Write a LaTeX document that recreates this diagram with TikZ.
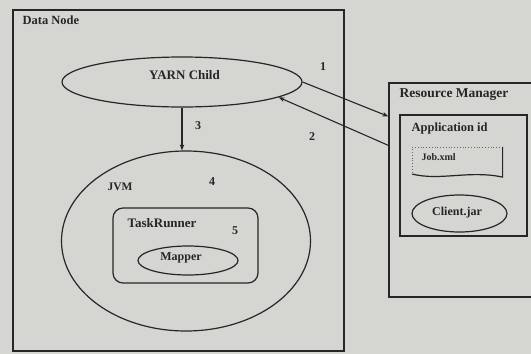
\documentclass[tikz,border=0pt]{standalone}
\usepackage{fontspec}
\setmainfont{Liberation Serif}
\usetikzlibrary{shapes.geometric,arrows.meta}
\definecolor{paper}{HTML}{D5D5D2}
\definecolor{ink}{HTML}{262626}
\begin{document}
\begin{tikzpicture}[x=1pt,y=-1pt,
  line width=1.2pt, draw=ink, text=ink,
  lbl/.style={font=\fontsize{#1}{#1}\selectfont\bfseries, inner sep=0pt, text=ink},
  lbl/.default=12.5,
  box/.style={draw=ink, rectangle, inner sep=0pt},
  oval/.style={draw=ink, ellipse, inner sep=0pt},
  arr/.style={draw=ink, line width=1.1pt, -{Stealth[length=6pt,width=4.5pt]}}]
\useasboundingbox (0,0) rectangle (531,354);
\fill[paper] (0,0) rectangle (531,354);
\clip (0,0) rectangle (531,354);

% Data node container
\node[box, minimum width=331pt, minimum height=341pt] (dn) at (178.5,180.5) {};
\node[lbl=12.5, anchor=west] (dnl) at (22,20) {Data Node};

% YARN child process
\node[oval, minimum width=240pt, minimum height=50pt] (yarn) at (182,82) {};
\node[lbl=13] (yarnl) at (184.5,75) {YARN Child};

% JVM with task runner and mapper
\node[oval, minimum width=249pt, minimum height=180pt] (jvm) at (186,241) {};
\node[lbl=11.5, anchor=west] (jvml) at (107,187) {JVM};
\node[box, rounded corners=10pt, minimum width=145pt, minimum height=75pt] (tr) at (185.5,245.5) {};
\node[lbl=13, anchor=west] (trl) at (127,223) {TaskRunner};
\node[oval, minimum width=100pt, minimum height=29pt] (map) at (188,260.5) {};
\node[lbl=12] (mapl) at (181,258) {Mapper};

% Resource manager side (runs past the right edge)
\node[box, minimum width=170pt, minimum height=214pt] (rm) at (474,190) {};
\node[lbl=13.5, anchor=west] (rml) at (399,95) {Resource Manager};
\node[box, minimum width=127pt, minimum height=121pt] (app) at (463.5,175.5) {};
\node[lbl=12.5, anchor=west] (appl) at (411,128) {Application id};

% Job file (document shape)
\node[rectangle, inner sep=0pt, minimum width=89pt, minimum height=27pt] (job) at (457.5,161) {};
\draw[ink!70, line width=0.8pt, dotted] (job.south west) -- (job.north west) -- (job.north east);
\draw (job.north east) -- ([yshift=-2pt]job.south east)
  .. controls (470,170) and (440,181) .. ([yshift=1pt]job.south west);
\node[lbl=10, anchor=west] (jobl) at (421,157) {Job.xml};

\node[oval, minimum width=95pt, minimum height=37pt] (cli) at (459.5,213.5) {};
\node[lbl=12] (clil) at (457,213) {Client.jar};

% Message flow
\draw[arr] (yarn.east) -- ([yshift=-34pt]rm.north west);
\draw[arr] ([yshift=-63pt]rm.north west) -- (yarn.-9);
\draw[arr] (yarn.south) -- (yarn.south |- jvm.north);

\node[lbl=12] (n1) at (323,67) {1};
\node[lbl=12] (n2) at (312,137) {2};
\node[lbl=12] (n3) at (198,126) {3};
\node[lbl=12] (n4) at (212,182) {4};
\node[lbl=12] (n5) at (235,231) {5};
\end{tikzpicture}
\end{document}
